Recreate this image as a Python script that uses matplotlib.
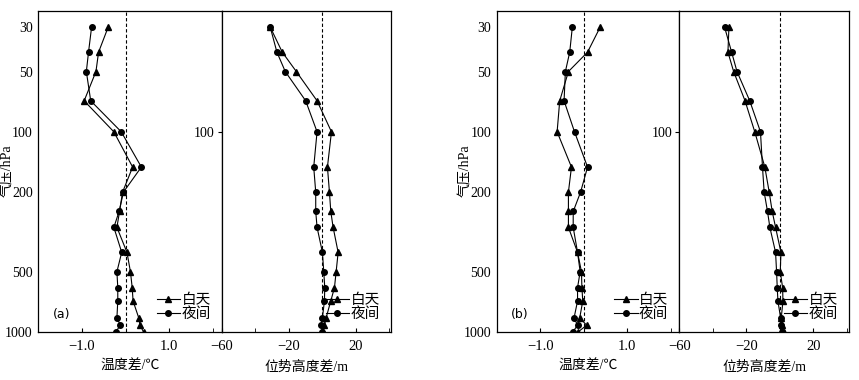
import matplotlib
matplotlib.use('Agg')
import matplotlib.pyplot as plt
from matplotlib.ticker import FixedLocator, NullLocator

# ── Fonts ───────────────────────────────────────────────
plt.rcParams['font.family'] = ['Liberation Serif', 'Noto Sans CJK SC', 'DejaVu Sans']
plt.rcParams['font.size'] = 9.5
plt.rcParams['axes.unicode_minus'] = True

# ── Data ────────────────────────────────────────────────
levels = [30, 40, 50, 70, 100, 150, 200, 250, 300, 400, 500, 600, 700, 850, 925, 1000]

# (a) temperature difference
a_t_day   = [-0.40, -0.62, -0.68, -0.95, -0.27, 0.16, -0.07, -0.14, -0.20, 0.03, 0.11, 0.15, 0.17, 0.30, 0.33, 0.41]
a_t_night = [-0.78, -0.85, -0.90, -0.80, -0.10, 0.36, -0.05, -0.15, -0.27, -0.09, -0.20, -0.18, -0.18, -0.20, -0.12, -0.23]
# (a) geopotential height difference
a_h_day   = [-31.0, -23.8, -15.4, -3.0, 5.6, 3.2, 4.4, 5.2, 6.6, 9.6, 8.4, 7.4, 5.2, 2.4, 1.4, 0.8]
a_h_night = [-31.0, -27.0, -22.0, -9.8, -3.0, -5.0, -3.8, -3.8, -3.0, 0.2, 1.0, 1.6, 1.4, 0.2, -0.6, 0.2]

# (b) temperature difference
b_t_day   = [0.38, 0.09, -0.35, -0.55, -0.61, -0.28, -0.35, -0.35, -0.35, -0.14, -0.05, -0.04, -0.02, -0.09, 0.07, -0.13]
b_t_night = [-0.26, -0.32, -0.42, -0.45, -0.21, 0.09, -0.07, -0.24, -0.24, -0.14, -0.08, -0.14, -0.14, -0.22, -0.14, -0.25]
# (b) geopotential height difference
b_h_day   = [-30.4, -31.0, -27.6, -20.8, -15.0, -9.0, -6.4, -4.6, -2.6, 0.6, 0.2, 1.6, 1.8, 0.8, 1.0, 2.4]
b_h_night = [-33.0, -28.8, -25.6, -18.0, -11.6, -10.4, -9.4, -7.4, -6.0, -2.6, -2.0, -1.6, -1.2, 0.4, 0.6, 1.4]

p_ticks = [30, 50, 100, 200, 500, 1000]

# ── Figure ──────────────────────────────────────────────
fig = plt.figure(figsize=(8.59, 3.80), dpi=100)

bottom, height = 0.1263, 0.844
panels = [
    ('(a)', [0.0446, 0.2581], [0.2135, 0.1967], a_t_day, a_t_night, a_h_day, a_h_night),
    ('(b)', [0.5782, 0.7908], [0.2126, 0.1972], b_t_day, b_t_night, b_h_day, b_h_night),
]

def style_line(ax, day, night):
    ax.plot(day, levels, color='black', lw=0.8, marker='^', ms=4, label='白天')
    ax.plot(night, levels, color='black', lw=0.8, marker='o', ms=4, label='夜间')
    ax.axvline(0, color='black', lw=0.8, ls=(0, (3, 2)))
    ax.set_yscale('log')
    ax.set_ylim(1000, 25)
    ax.yaxis.set_minor_locator(NullLocator())
    ax.legend(loc='lower right', frameon=False, handlelength=1.6, handletextpad=0.1,
              labelspacing=0.0, borderaxespad=0.35, fontsize=10.5)
    for s in ax.spines.values():
        s.set_linewidth(0.9)

for tag, lefts, widths, t_day, t_night, h_day, h_night in panels:
    ax1 = fig.add_axes([lefts[0], bottom, widths[0], height])
    ax2 = fig.add_axes([lefts[1], bottom, widths[1], height])

    # temperature
    style_line(ax1, t_day, t_night)
    ax1.set_xlim(-2.0, 2.2)
    ax1.xaxis.set_major_locator(FixedLocator([-1.0, 1.0]))
    ax1.xaxis.set_minor_locator(FixedLocator([-2.0, 0.0, 2.0]))
    ax1.set_xticklabels(['\u22121.0', '1.0'])
    ax1.tick_params(axis='x', which='both', direction='in', length=3, pad=6, labelsize=10.5)
    ax1.yaxis.set_major_locator(FixedLocator(p_ticks))
    ax1.set_yticklabels([str(p) for p in p_ticks])
    ax1.tick_params(axis='y', length=0, pad=4, labelsize=10)
    ax1.set_xlabel('温度差/℃', labelpad=5, fontsize=10)
    ax1.text(0.125, 0.055, tag, transform=ax1.transAxes, ha='center', va='center',
             family=['DejaVu Sans'], fontsize=9)

    # geopotential height
    style_line(ax2, h_day, h_night)
    ax2.set_xlim(-60, 41)
    ax2.xaxis.set_major_locator(FixedLocator([-60, -20, 20]))
    ax2.xaxis.set_minor_locator(FixedLocator([-40, 0, 40]))
    ax2.set_xticklabels(['\u221260', '\u221220', '20'])
    ax2.tick_params(axis='x', which='both', direction='in', length=3, pad=6, labelsize=10.5)
    ax2.yaxis.set_major_locator(FixedLocator([100]))
    ax2.set_yticklabels(['100'])
    ax2.tick_params(axis='y', direction='out', length=3, pad=2, labelsize=10)
    ax2.set_xlabel('位势高度差/m', labelpad=5, fontsize=10)

    fig.text(lefts[0] - 0.036, 0.55, '气压/hPa', rotation=90, ha='center', va='center',
             fontsize=10)

fig.savefig('out.png', dpi=100)
